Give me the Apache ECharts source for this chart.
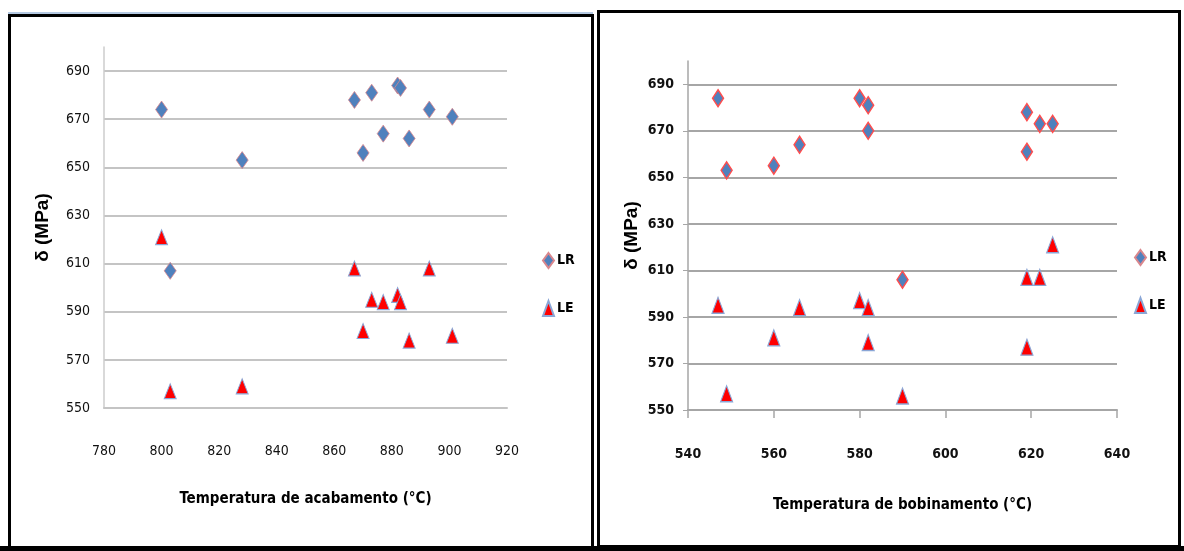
<!DOCTYPE html>
<html>
<head>
<meta charset="utf-8">
<script src="https://cdn.jsdelivr.net/npm/echarts@6.0.0/dist/echarts.min.js"></script>
<style>
  html, body { margin: 0; padding: 0; background: #fff; }
  #chart { width: 1184px; height: 551px; }
</style>
</head>
<body>
<div id="chart"></div>
<script>
// left panel: Temperatura de acabamento
const acabTemp = [800, 803, 828, 867, 870, 873, 877, 882, 883, 886, 893, 901];
const acabLR   = [674, 607, 653, 678, 656, 681, 664, 684, 683, 662, 674, 671];
const acabLE   = [621, 557, 559, 608, 582, 595, 594, 597, 594, 578, 608, 580];

// right panel: Temperatura de bobinamento
const bobTemp = [547, 549, 560, 566, 580, 582, 582, 590, 619, 619, 622, 625];
const bobLR   = [684, 653, 655, 664, 684, 681, 670, 606, 678, 661, 673, 673];
const bobLE   = [595, 557, 581, 594, 597, 594, 579, 556, 607, 577, 607, 621];

// axis ranges [min, max, step]
const stressAxis = [550, 700, 20];
const acabAxis   = [780, 920, 20];
const bobAxis    = [540, 640, 20];

const seriesNames = ['LR', 'LE'];

const NARROW = "'Liberation Sans Narrow', 'DejaVu Sans Condensed', sans-serif";
const BOLDSANS = "'Liberation Sans', Arial, sans-serif";

function pairs(xs, ys) {
  return xs.map((x, i) => [x, ys[i]]);
}

// y axis (stress) shared look
function stressY(gridIndex, opts) {
  return {
    type: 'value',
    gridIndex: gridIndex,
    min: stressAxis[0],
    max: stressAxis[1],
    interval: stressAxis[2],
    name: 'δ (MPa)',
    nameLocation: 'middle',
    nameGap: opts.nameGap,
    nameTextStyle: { fontSize: opts.nameSize, fontWeight: 'bold', fontFamily: BOLDSANS, color: '#000' },
    axisLine: { show: true, lineStyle: { color: opts.lineColor, width: 1.5 } },
    axisTick: { show: opts.ticks, length: 5, lineStyle: { color: opts.lineColor } },
    axisLabel: {
      showMaxLabel: false,
      margin: opts.labelMargin,
      color: '#111',
      fontSize: opts.labelSize,
      fontWeight: opts.labelWeight,
      fontFamily: NARROW
    },
    splitLine: { show: true, showMaxLine: false, lineStyle: { color: opts.gridColor, width: 2 } }
  };
}

function tempX(gridIndex, range, title, opts) {
  return {
    type: 'value',
    gridIndex: gridIndex,
    min: range[0],
    max: range[1],
    interval: range[2],
    name: title,
    nameLocation: 'middle',
    nameGap: opts.nameGap,
    nameTextStyle: { fontSize: opts.nameSize, fontWeight: 'bold', fontFamily: NARROW, color: '#000' },
    axisLine: { show: true, lineStyle: { color: opts.lineColor, width: 2 } },
    axisTick: { show: opts.ticks, length: 8, lineStyle: { color: opts.lineColor, width: 1.5 } },
    axisLabel: {
      margin: opts.labelMargin,
      color: '#111',
      fontSize: opts.labelSize,
      fontWeight: opts.labelWeight,
      fontFamily: NARROW
    },
    splitLine: { show: false }
  };
}

function legendAt(left, top) {
  return {
    data: seriesNames,
    orient: 'vertical',
    left: left,
    top: top,
    padding: 0,
    itemWidth: 11,
    itemHeight: 15,
    itemGap: 31,
    selectedMode: false,
    textStyle: { fontSize: 14, fontWeight: 'bold', fontFamily: NARROW, color: '#000', padding: [0, 0, 0, -2] }
  };
}

const option = {
  animation: false,
  backgroundColor: '#fff',
  grid: [
    { left: 104, top: 47, width: 403, height: 361 },
    { left: 688, top: 61, width: 429, height: 349 }
  ],
  xAxis: [
    tempX(0, acabAxis, 'Temperatura de acabamento (°C)',
      { nameGap: 84, nameSize: 15, lineColor: '#c4c4c4', ticks: false, labelMargin: 36, labelSize: 14, labelWeight: 'normal' }),
    tempX(1, bobAxis, 'Temperatura de bobinamento (°C)',
      { nameGap: 88, nameSize: 15, lineColor: '#a6a6a6', ticks: true, labelMargin: 37, labelSize: 14, labelWeight: 'bold' })
  ],
  yAxis: [
    stressY(0, { nameGap: 52, nameSize: 19, lineColor: '#cccccc', gridColor: '#c4c4c4', ticks: false, labelMargin: 14, labelSize: 14, labelWeight: 'normal' }),
    stressY(1, { nameGap: 47, nameSize: 19, lineColor: '#a6a6a6', gridColor: '#a6a6a6', ticks: true, labelMargin: 14, labelSize: 14, labelWeight: 'bold' })
  ],
  legend: [legendAt(542, 252), legendAt(1134, 249)],
  series: [
    {
      type: 'scatter', name: 'LR', xAxisIndex: 0, yAxisIndex: 0,
      symbol: 'diamond', symbolSize: [12, 17],
      data: pairs(acabTemp, acabLR),
      itemStyle: { color: '#4f81bd', borderColor: '#d9868c', borderWidth: 0.8, opacity: 1 }
    },
    {
      type: 'scatter', name: 'LE', xAxisIndex: 0, yAxisIndex: 0,
      symbol: 'triangle', symbolSize: [12, 15],
      data: pairs(acabTemp, acabLE),
      itemStyle: { color: '#ff0000', borderColor: '#8aa6d6', borderWidth: 1, opacity: 1 }
    },
    {
      type: 'scatter', name: 'LR', xAxisIndex: 1, yAxisIndex: 1,
      symbol: 'diamond', symbolSize: [11, 17],
      data: pairs(bobTemp, bobLR),
      itemStyle: { color: '#4f81bd', borderColor: '#ff4d4d', borderWidth: 1.5, opacity: 1 }
    },
    {
      type: 'scatter', name: 'LE', xAxisIndex: 1, yAxisIndex: 1,
      symbol: 'triangle', symbolSize: [12, 16],
      data: pairs(bobTemp, bobLE),
      itemStyle: { color: '#ff0000', borderColor: '#8aa6d6', borderWidth: 1.2, opacity: 1 }
    }
  ],
  // panel frames
  graphic: [
    { type: 'line', silent: true, shape: { x1: 8, y1: 13, x2: 593, y2: 13 }, style: { stroke: '#9bb7d9', lineWidth: 1.5 } },
    { type: 'rect', silent: true, shape: { x: 9.5, y: 15.5, width: 583, height: 532 }, style: { fill: 'none', stroke: '#000', lineWidth: 3 } },
    { type: 'rect', silent: true, shape: { x: 598.5, y: 11.5, width: 581, height: 535 }, style: { fill: 'none', stroke: '#000', lineWidth: 3 } },
    { type: 'rect', silent: true, shape: { x: 0, y: 546, width: 1184, height: 5 }, style: { fill: '#000' } }
  ]
};

const myChart = echarts.init(document.getElementById('chart'));
myChart.setOption(option);
</script>
</body>
</html>
